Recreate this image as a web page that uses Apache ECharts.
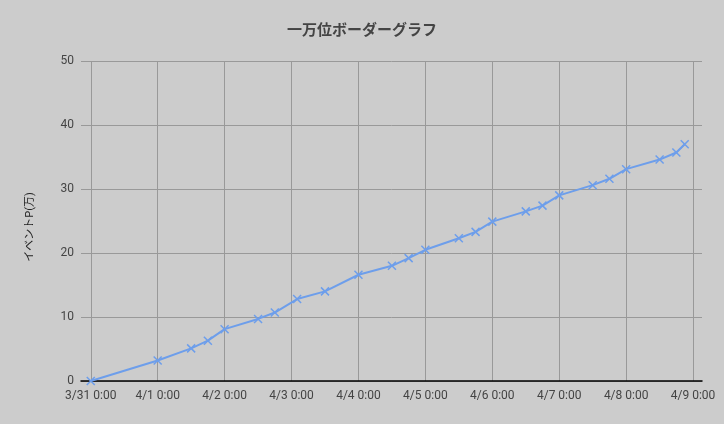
<!DOCTYPE html>
<html>
<head>
<meta charset="utf-8">
<script src="https://cdn.jsdelivr.net/npm/echarts@6/dist/echarts.min.js"></script>
<style>
  html, body { margin: 0; padding: 0; background: #cccccc; }
  #chart { width: 724px; height: 424px; }
</style>
</head>
<body>
<div id="chart"></div>
<script>
// sample times and event points (万)
const times = [
  '2019-03-31 00:00', '2019-04-01 00:00', '2019-04-01 12:00', '2019-04-01 18:00',
  '2019-04-02 00:00', '2019-04-02 12:00', '2019-04-02 18:00', '2019-04-03 02:00',
  '2019-04-03 12:00', '2019-04-04 00:00', '2019-04-04 12:00', '2019-04-04 18:00',
  '2019-04-05 00:00', '2019-04-05 12:00', '2019-04-05 18:00', '2019-04-06 00:00',
  '2019-04-06 12:00', '2019-04-06 18:00', '2019-04-07 00:00', '2019-04-07 12:00',
  '2019-04-07 18:00', '2019-04-08 00:00', '2019-04-08 12:00', '2019-04-08 18:00',
  '2019-04-08 21:00'
];
const points = [
  0, 3.2, 5.1, 6.3,
  8.1, 9.7, 10.7, 12.8,
  14.0, 16.6, 18.0, 19.2,
  20.5, 22.3, 23.3, 24.9,
  26.5, 27.4, 29.0, 30.6,
  31.6, 33.1, 34.6, 35.7,
  37.0
];
const dayTicks = [
  '2019-03-31 00:00', '2019-04-01 00:00', '2019-04-02 00:00', '2019-04-03 00:00',
  '2019-04-04 00:00', '2019-04-05 00:00', '2019-04-06 00:00', '2019-04-07 00:00',
  '2019-04-08 00:00', '2019-04-09 00:00'
];

const toMs = (s) => {
  const [d, t] = s.split(' ');
  const [y, m, dd] = d.split('-').map(Number);
  const [hh, mm] = t.split(':').map(Number);
  return new Date(y, m - 1, dd, hh, mm).getTime();
};
const HOUR = 3600 * 1000;
const origin = toMs(dayTicks[0]);
// hours since the first day
const toH = (s) => (toMs(s) - origin) / HOUR;
const tickH = dayTicks.map(toH);

const chart = echarts.init(document.getElementById('chart'));
chart.setOption({
  backgroundColor: '#cccccc',
  animation: false,
  textStyle: { fontFamily: 'Roboto, "Noto Sans CJK JP", sans-serif' },
  title: {
    text: '一万位ボーダーグラフ',
    left: 'center',
    top: 19,
    textStyle: { fontSize: 15, fontWeight: 'bold', color: '#444' }
  },
  grid: { left: 81, right: 22, top: 61, bottom: 43 },
  xAxis: {
    type: 'value',
    min: tickH[0] - 3.5,
    max: tickH[tickH.length - 1] + 3.2,
    axisLine: { show: true, lineStyle: { color: '#000', width: 1.5 } },
    axisTick: { show: false, customValues: tickH },
    axisLabel: {
      customValues: tickH,
      color: '#444',
      fontSize: 12,
      margin: 9,
      formatter: (v) => {
        const d = new Date(origin + v * HOUR);
        return (d.getMonth() + 1) + '/' + d.getDate() + ' ' + d.getHours() + ':' +
          String(d.getMinutes()).padStart(2, '0');
      }
    },
    splitLine: { show: true, lineStyle: { color: '#999999', width: 1 } }
  },
  yAxis: {
    type: 'value',
    min: 0,
    max: 50,
    interval: 10,
    name: 'イベントP(万)',
    nameLocation: 'middle',
    nameGap: 45,
    nameTextStyle: { color: '#222', fontSize: 11, padding: [0, 12, 0, 0] },
    axisLine: { show: false },
    axisTick: { show: false },
    axisLabel: { color: '#444', fontSize: 12, margin: 7 },
    splitLine: { show: true, lineStyle: { color: '#999999', width: 1 } }
  },
  series: [{
    type: 'line',
    data: times.map((t, i) => [toH(t), points[i]]),
    symbol: 'path://M0,0L10,10M10,0L0,10',
    symbolSize: 8,
    showAllSymbol: true,
    lineStyle: { color: '#6d9eeb', width: 2 },
    itemStyle: { color: '#6d9eeb', borderColor: '#6d9eeb', borderWidth: 1.5 }
  }]
});
</script>
</body>
</html>
